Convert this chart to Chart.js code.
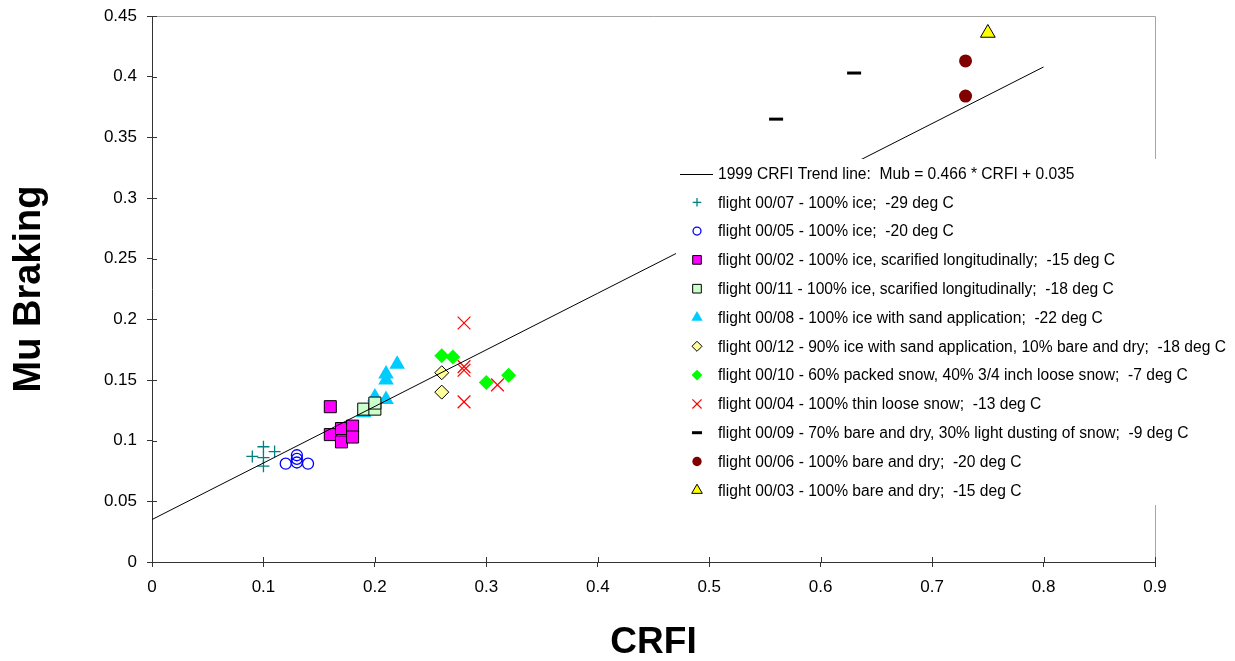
<!DOCTYPE html>
<html>
<head>
  <title>Mu Braking vs CRFI</title>
  <script src="https://cdn.jsdelivr.net/npm/chart.js"></script>
  <style>
    body { margin: 0; padding: 0; background: #fff; }
    #wrap { width: 1235px; height: 661px; }
  </style>
</head>
<body>
  <div id="wrap"><canvas id="crfiChart" width="1235" height="661"></canvas></div>
  <script>
    // axis ticks
    const xTickLabels = ["0", "0.1", "0.2", "0.3", "0.4", "0.5", "0.6", "0.7", "0.8", "0.9"];
    const yTickLabels = ["0", "0.05", "0.1", "0.15", "0.2", "0.25", "0.3", "0.35", "0.4", "0.45"];

    // 1999 trend line end points
    const trendX = [0, 0.8];
    const trendY = [0.035, 0.408];

    // values
    const f0007X = [0.09, 0.10, 0.11, 0.10, 0.10];
    const f0007Y = [0.087, 0.095, 0.091, 0.079, 0.086];
    const f0005X = [0.12, 0.13, 0.13, 0.13, 0.14];
    const f0005Y = [0.081, 0.088, 0.085, 0.082, 0.081];
    const f0002X = [0.16, 0.16, 0.17, 0.17, 0.18, 0.18];
    const f0002Y = [0.128, 0.105, 0.110, 0.099, 0.112, 0.103];
    const f0011X = [0.19, 0.20, 0.20];
    const f0011Y = [0.126, 0.126, 0.131];
    const f0008X = [0.22, 0.21, 0.21, 0.20, 0.21, 0.19];
    const f0008Y = [0.163, 0.155, 0.150, 0.136, 0.134, 0.123];
    const f0012X = [0.26, 0.26];
    const f0012Y = [0.156, 0.140];
    const f0010X = [0.26, 0.27, 0.30, 0.32];
    const f0010Y = [0.170, 0.169, 0.148, 0.154];
    const f0004X = [0.28, 0.28, 0.28, 0.31, 0.28];
    const f0004Y = [0.197, 0.161, 0.158, 0.146, 0.132];
    const f0009X = [0.56, 0.63];
    const f0009Y = [0.365, 0.403];
    const f0006X = [0.73, 0.73];
    const f0006Y = [0.413, 0.384];
    const f0003X = [0.75];
    const f0003Y = [0.436];

    function pts(xs, ys) {
      return xs.map((x, i) => ({x: x, y: ys[i]}));
    }

    const FONT = "Arial, 'Liberation Sans', sans-serif";

    // series: label, data, style
    const series = [
      {label: "flight 00/07 - 100% ice;  -29 deg C", data: pts(f0007X, f0007Y),
        pointStyle: "cross", radius: 6, bg: "#008080", border: "#008080", bw: 1.3},
      {label: "flight 00/05 - 100% ice;  -20 deg C", data: pts(f0005X, f0005Y),
        pointStyle: "circle", radius: 5.5, bg: "rgba(0,0,0,0)", border: "#0000ff", bw: 1.3},
      {label: "flight 00/02 - 100% ice, scarified longitudinally;  -15 deg C", data: pts(f0002X, f0002Y),
        pointStyle: "rect", radius: 8.5, bg: "#ff00ff", border: "#000000", bw: 1},
      {label: "flight 00/11 - 100% ice, scarified longitudinally;  -18 deg C", data: pts(f0011X, f0011Y),
        pointStyle: "rect", radius: 8.5, bg: "#ccffcc", border: "#000000", bw: 1},
      {label: "flight 00/08 - 100% ice with sand application;  -22 deg C", data: pts(f0008X, f0008Y),
        pointStyle: "triangle", radius: 9, bg: "#00ccff", border: "#00ccff", bw: 0},
      {label: "flight 00/12 - 90% ice with sand application, 10% bare and dry;  -18 deg C", data: pts(f0012X, f0012Y),
        pointStyle: "rectRot", radius: 7, bg: "#ffff99", border: "#000000", bw: 1},
      {label: "flight 00/10 - 60% packed snow, 40% 3/4 inch loose snow;  -7 deg C", data: pts(f0010X, f0010Y),
        pointStyle: "rectRot", radius: 7.5, bg: "#00ff00", border: "#00ff00", bw: 0},
      {label: "flight 00/04 - 100% thin loose snow;  -13 deg C", data: pts(f0004X, f0004Y),
        pointStyle: "crossRot", radius: 9, bg: "#ff0000", border: "#ff0000", bw: 1.2},
      {label: "flight 00/09 - 70% bare and dry, 30% light dusting of snow;  -9 deg C", data: pts(f0009X, f0009Y),
        pointStyle: "line", radius: 7, bg: "#000000", border: "#000000", bw: 3},
      {label: "flight 00/06 - 100% bare and dry;  -20 deg C", data: pts(f0006X, f0006Y),
        pointStyle: "circle", radius: 6.5, bg: "#800000", border: "#800000", bw: 0},
      {label: "flight 00/03 - 100% bare and dry;  -15 deg C", data: pts(f0003X, f0003Y),
        pointStyle: "triangle", radius: 8.5, bg: "#ffff00", border: "#000000", bw: 1}
    ];

    const datasets = [{
      type: "line",
      label: "1999 CRFI Trend line:  Mub = 0.466 * CRFI + 0.035",
      data: pts(trendX, trendY),
      borderColor: "#000000",
      borderWidth: 1,
      pointRadius: 0,
      showLine: true,
      fill: false
    }];
    series.forEach(s => {
      datasets.push({
        label: s.label,
        data: s.data,
        pointStyle: s.pointStyle,
        pointRadius: s.radius,
        pointHoverRadius: s.radius,
        backgroundColor: s.bg,
        borderColor: s.border,
        borderWidth: s.bw
      });
    });

    // ticks that cross the axes + grey top/right frame
    const frameTicks = {
      id: "frameTicks",
      beforeDatasetsDraw(chart) {
        const ctx = chart.ctx;
        const a = chart.chartArea;
        ctx.save();
        ctx.strokeStyle = "#a6a6a6";
        ctx.lineWidth = 1;
        ctx.beginPath();
        ctx.moveTo(a.left, a.top + 0.5);
        ctx.lineTo(a.right + 0.5, a.top + 0.5);
        ctx.lineTo(a.right + 0.5, a.bottom);
        ctx.stroke();
        ctx.strokeStyle = "#333333";
        ctx.beginPath();
        chart.scales.x.ticks.forEach(t => {
          const px = Math.round(chart.scales.x.getPixelForValue(t.value)) + 0.5;
          ctx.moveTo(px, a.bottom);
          ctx.lineTo(px, a.bottom - 5);
        });
        chart.scales.y.ticks.forEach(t => {
          const py = Math.round(chart.scales.y.getPixelForValue(t.value)) + 0.5;
          ctx.moveTo(a.left, py);
          ctx.lineTo(a.left + 5, py);
        });
        ctx.stroke();
        ctx.restore();
      }
    };

    // legend box drawn over the plot
    const boxLegend = {
      id: "boxLegend",
      afterDatasetsDraw(chart) {
        const ctx = chart.ctx;
        const bx = 676, by = 159, bw = 560, bh = 346;
        const rowH = 28.8, y0 = 173.5, symX = 697, textX = 718;
        ctx.save();
        ctx.fillStyle = "#ffffff";
        ctx.fillRect(bx, by, bw, bh);
        ctx.font = "15.6px " + FONT;
        ctx.textBaseline = "middle";
        chart.data.datasets.forEach((ds, i) => {
          const y = y0 + i * rowH;
          if (i === 0) {
            ctx.strokeStyle = "#000000";
            ctx.lineWidth = 1;
            ctx.beginPath();
            ctx.moveTo(680, Math.round(y) + 0.5);
            ctx.lineTo(713, Math.round(y) + 0.5);
            ctx.stroke();
          } else {
            const s = series[i - 1];
            ctx.fillStyle = s.bg;
            ctx.strokeStyle = s.border;
            ctx.lineWidth = s.pointStyle === "line" ? 3 : Math.max(s.bw, 1);
            Chart.helpers.drawPoint(ctx, {
              pointStyle: s.pointStyle,
              radius: s.radius * 0.72,
              rotation: 0,
              borderWidth: s.bw > 0 ? s.bw : 0
            }, symX, y);
          }
          ctx.fillStyle = "#000000";
          ctx.fillText(ds.label, textX, y + 1);
        });
        ctx.restore();
      }
    };

    new Chart(document.getElementById("crfiChart").getContext("2d"), {
      type: "scatter",
      data: { datasets: datasets },
      options: {
        responsive: false,
        animation: false,
        layout: { padding: { top: 16, right: 80, left: 0, bottom: 0 } },
        plugins: {
          legend: { display: false },
          tooltip: { enabled: false }
        },
        scales: {
          x: {
            type: "linear",
            position: "bottom",
            min: 0,
            max: 0.9,
            afterFit: s => { s.height = 99; s.paddingLeft = 0; s.paddingRight = 0; },
            border: { display: true, color: "#333333", width: 1 },
            grid: { display: true, drawOnChartArea: false, drawTicks: true, tickLength: 5, color: "#333333" },
            ticks: {
              stepSize: 0.1,
              padding: 10,
              color: "#000000",
              font: { family: FONT, size: 17 },
              maxRotation: 0,
              callback: (v, i) => xTickLabels[i]
            },
            title: {
              display: true,
              text: "CRFI",
              color: "#000000",
              padding: 0,
              font: { family: FONT, size: 37, weight: "bold", lineHeight: 1 }
            }
          },
          y: {
            type: "linear",
            position: "left",
            min: 0,
            max: 0.45,
            afterFit: s => { s.width = 152; s.paddingTop = 0; s.paddingBottom = 0; },
            border: { display: true, color: "#333333", width: 1 },
            grid: { display: true, drawOnChartArea: false, drawTicks: true, tickLength: 5, color: "#333333" },
            ticks: {
              stepSize: 0.05,
              padding: 10,
              color: "#000000",
              font: { family: FONT, size: 17 },
              callback: (v, i) => yTickLabels[i]
            },
            title: {
              display: true,
              text: "Mu Braking",
              color: "#000000",
              padding: { top: 11, bottom: 0 },
              font: { family: FONT, size: 38, weight: "bold", lineHeight: 1 }
            }
          }
        }
      },
      plugins: [frameTicks, boxLegend]
    });
  </script>
</body>
</html>
